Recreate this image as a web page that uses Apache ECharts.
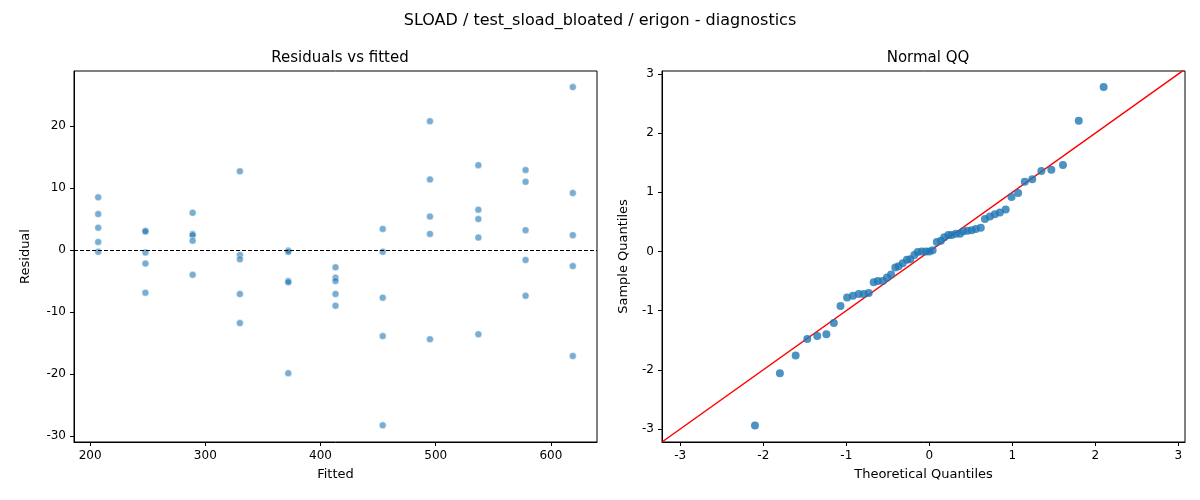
<!DOCTYPE html>
<html>
<head>
<meta charset="UTF-8">
<title>SLOAD diagnostics</title>
<style>
  body { margin: 0; background: #fff; }
  #chart { width: 1200px; height: 500px; }
</style>
<script src="https://cdn.jsdelivr.net/npm/echarts@6/dist/echarts.min.js"></script>
</head>
<body>
<div id="chart"></div>
<script>
// residuals vs fitted
var fitted = [
  207,207,207,207,207, 248,248,248,248,248, 289,289,289,289,289,
  330,330,330,330,330, 372,372,372,372,372, 413,413,413,413,413,
  454,454,454,454,454, 495,495,495,495,495, 537,537,537,537,537,
  578,578,578,578,578, 619,619,619,619,619
];
var residual = [
  8.5,5.8,3.6,1.3,-0.3, 3.1,3.0,-0.4,-2.2,-6.9, 6.0,2.6,2.4,1.5,-4.0,
  12.7,-0.8,-1.5,-7.1,-11.8, -0.1,-0.3,-5.0,-5.2,-19.9, -2.8,-4.5,-5.0,-7.1,-9.0,
  3.4,-0.3,-7.7,-13.9,-28.3, 20.8,11.4,5.4,2.6,-14.4, 13.7,6.5,5.0,2.0,-13.6,
  12.9,11.0,3.2,-1.6,-7.4, 26.3,9.2,2.4,-2.6,-17.1
];
// normal QQ
var theoretical = [
  -2.10,-1.80,-1.61,-1.47,-1.35,-1.24,-1.15,-1.07,-0.99,-0.92,-0.85,-0.79,-0.73,-0.67,
  -0.62,-0.56,-0.51,-0.46,-0.41,-0.37,-0.32,-0.27,-0.23,-0.18,-0.14,-0.09,-0.04,0.00,
  0.04,0.09,0.14,0.18,0.23,0.27,0.32,0.37,0.41,0.46,0.51,0.56,0.62,0.67,0.73,0.79,
  0.85,0.92,0.99,1.07,1.15,1.24,1.35,1.47,1.61,1.80,2.10
];
var sample = [
  -2.94,-2.06,-1.76,-1.48,-1.43,-1.40,-1.21,-0.92,-0.78,-0.75,-0.72,-0.72,-0.70,-0.52,
  -0.50,-0.50,-0.44,-0.39,-0.27,-0.25,-0.20,-0.14,-0.13,-0.06,-0.01,0.00,0.00,0.00,
  0.02,0.16,0.18,0.24,0.28,0.28,0.30,0.30,0.34,0.35,0.36,0.38,0.40,0.55,0.59,0.63,
  0.66,0.71,0.92,0.99,1.18,1.22,1.36,1.38,1.46,2.21,2.78
];
var xTicksLeft = [200, 300, 400, 500, 600];
var yTicksLeft = [-30, -20, -10, 0, 10, 20];
var qqTicks = [-3, -2, -1, 0, 1, 2, 3];

var font = 'DejaVu Sans';
function axis(min, max, ticks, name, gap) {
  return {
    type: 'value', min: min, max: max, name: name, nameLocation: 'middle', nameGap: gap,
    nameTextStyle: { color: '#000', fontSize: 13, fontFamily: font },
    axisLine: { show: true, onZero: false, lineStyle: { color: '#000' } },
    axisTick: { show: true, customValues: ticks, length: 4, lineStyle: { color: '#000' } },
    axisLabel: { customValues: ticks, color: '#000', fontSize: 12, fontFamily: font },
    splitLine: { show: false }
  };
}
var chart = echarts.init(document.getElementById('chart'));
chart.setOption({
  animation: false,
  title: [
    { text: 'SLOAD / test_sload_bloated / erigon - diagnostics', left: 'center', top: 8,
      textStyle: { fontSize: 16, fontWeight: 'normal', color: '#000', fontFamily: font } },
    { text: 'Residuals vs fitted', left: 335, top: 46, textAlign: 'center',
      textStyle: { fontSize: 15, fontWeight: 'normal', color: '#000', fontFamily: font } },
    { text: 'Normal QQ', left: 923, top: 46, textAlign: 'center',
      textStyle: { fontSize: 15, fontWeight: 'normal', color: '#000', fontFamily: font } }
  ],
  grid: [
    { left: 74, top: 71, width: 523, height: 371, show: true, borderColor: '#000', borderWidth: 1 },
    { left: 662, top: 71, width: 523, height: 371, show: true, borderColor: '#000', borderWidth: 1 }
  ],
  xAxis: [
    Object.assign(axis(186, 640, xTicksLeft, 'Fitted', 26), { gridIndex: 0 }),
    Object.assign(axis(-3.22, 3.08, qqTicks, 'Theoretical Quantiles', 26), { gridIndex: 1 })
  ],
  yAxis: [
    Object.assign(axis(-31, 28.9, yTicksLeft, 'Residual', 42), { gridIndex: 0 }),
    Object.assign(axis(-3.22, 3.05, qqTicks, 'Sample Quantiles', 32), { gridIndex: 1 })
  ],
  series: [
    {
      type: 'scatter', xAxisIndex: 0, yAxisIndex: 0, symbolSize: 7,
      itemStyle: { color: 'rgba(31,119,180,0.75)', borderColor: '#fff', borderWidth: 0.6 },
      data: fitted.map(function (f, i) { return [f, residual[i]]; }),
      markLine: {
        silent: true, symbol: 'none', label: { show: false },
        lineStyle: { color: '#000', type: [4, 2], width: 1 },
        data: [{ yAxis: 0 }]
      }
    },
    {
      type: 'scatter', xAxisIndex: 1, yAxisIndex: 1, symbolSize: 8,
      itemStyle: { color: '#1f77b4' },
      data: theoretical.map(function (t, i) { return [t, sample[i]]; })
    },
    {
      type: 'line', xAxisIndex: 1, yAxisIndex: 1, symbol: 'none', clip: true, z: 1,
      lineStyle: { color: '#ff0000', width: 1.5 },
      data: [[-3.22, -3.22], [3.08, 3.08]]
    }
  ]
});
</script>
</body>
</html>
